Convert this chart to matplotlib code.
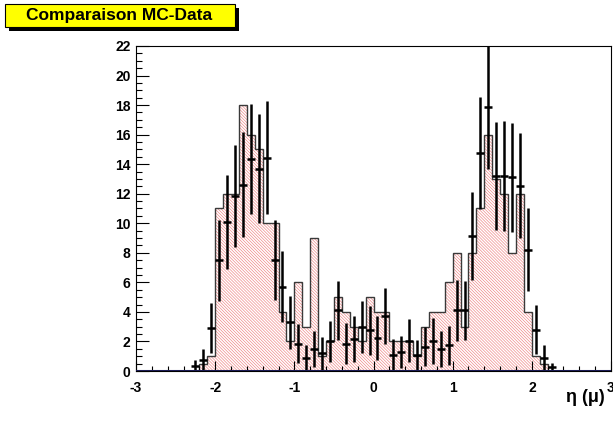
import numpy as np
import matplotlib
matplotlib.use("Agg")
import matplotlib.pyplot as plt
from matplotlib.patches import Rectangle
from matplotlib.ticker import MultipleLocator

plt.rcParams['font.family'] = ['Liberation Sans', 'DejaVu Sans']
plt.rcParams['hatch.linewidth'] = 0.45
plt.rcParams['axes.unicode_minus'] = False

# bins of 0.1 from -3 to 3
bin_edges = np.round(np.arange(-3.0, 3.0001, 0.1), 2)

# MC histogram contents (bins -2.2 .. 2.2)
mc_lo = -2.2
mc_vals = [0.5, 1, 11, 12, 12, 18, 16, 15, 10, 10,
           4, 2, 6, 3, 9, 1, 2, 5, 4, 3,
           2, 5, 4, 4, 2, 2, 2, 1, 3, 4,
           4, 6, 8, 3, 8, 11, 16, 13, 12, 8,
           12, 4, 1, 0.5]

# data points (bin centres), values and errors
data_x = [-2.25, -2.15, -2.05, -1.95, -1.85, -1.75, -1.65, -1.55, -1.45, -1.35,
          -1.25, -1.15, -1.05, -0.95, -0.85, -0.75, -0.65, -0.55, -0.45, -0.35,
          -0.25, -0.15, -0.05, 0.05, 0.15, 0.25, 0.35, 0.45, 0.55, 0.65,
          0.75, 0.85, 0.95, 1.05, 1.15, 1.25, 1.35, 1.45, 1.55, 1.65,
          1.75, 1.85, 1.95, 2.05, 2.15, 2.25]
data_y = [0.35, 0.72, 2.9, 7.5, 10.1, 11.85, 12.6, 14.35, 13.7, 14.45,
          7.5, 5.7, 3.3, 1.85, 0.86, 1.5, 1.2, 2.0, 4.1, 1.85,
          2.15, 3.0, 2.75, 2.25, 3.7, 1.1, 1.3, 2.05, 1.1, 1.65,
          2.05, 1.5, 1.75, 4.1, 4.1, 9.15, 14.75, 17.9, 13.2, 13.2,
          13.1, 12.55, 8.2, 2.8, 0.86, 0.25]
data_err = [0.4, 0.8, 1.7, 2.75, 3.2, 3.45, 3.55, 3.75, 3.7, 3.8,
            2.7, 2.4, 1.8, 1.3, 0.9, 1.2, 1.1, 1.4, 2.0, 1.37,
            1.55, 1.76, 1.66, 1.5, 1.9, 1.05, 1.1, 1.45, 1.0, 1.3,
            1.55, 1.2, 1.33, 2.05, 2.0, 3.0, 3.8, 4.2, 3.67, 3.7,
            3.67, 3.55, 2.8, 1.64, 0.9, 0.3]

mc_full = np.zeros(len(bin_edges) - 1)
start = int(round((mc_lo + 3.0) / 0.1))
mc_full[start:start + len(mc_vals)] = mc_vals

fig = plt.figure(figsize=(6.13, 4.23), dpi=100)
ax = fig.add_axes([0.2219, 0.1229, 0.7748, 0.7684])

# hatched MC
ax.stairs(mc_full, bin_edges, fill=True, facecolor='none', edgecolor='#ee8080',
          hatch='\\' * 11, linewidth=0)
ax.stairs(mc_full, bin_edges, color='#3a3a3a', linewidth=1.0)

# data
ax.errorbar(data_x, data_y, yerr=data_err, xerr=0.05, fmt='none',
            ecolor='black', elinewidth=1.8, capsize=0)

ax.axhline(0, color='#1c1c55', linewidth=2.2, zorder=5)

ax.set_xlim(-3, 3)
ax.set_ylim(0, 22)
ax.xaxis.set_major_locator(MultipleLocator(1))
ax.xaxis.set_minor_locator(MultipleLocator(0.2))
ax.yaxis.set_major_locator(MultipleLocator(2))
ax.yaxis.set_minor_locator(MultipleLocator(0.5))
ax.tick_params(which='both', direction='in', top=False, right=False, width=0.8)
ax.tick_params(axis='y', which='major', length=9)
ax.tick_params(axis='y', which='minor', length=4.5)
ax.tick_params(axis='x', which='major', length=7)
ax.tick_params(axis='x', which='minor', length=3.5)
ax.tick_params(axis='both', labelsize=10)
for lab in ax.get_xticklabels() + ax.get_yticklabels():
    lab.set_fontweight('bold')
ax.tick_params(axis='x', pad=7)
ax.tick_params(axis='y', pad=4)
for s in ax.spines.values():
    s.set_linewidth(0.8)

fig.text(0.987, 0.06, 'η (μ)', ha='right', va='center', fontsize=13,
         fontweight='bold')

# title box with shadow
fig.patches.append(Rectangle((9 / 613, 1 - 31 / 423), 230 / 613, 23 / 423,
                             transform=fig.transFigure, facecolor='black',
                             edgecolor='none'))
fig.patches.append(Rectangle((5 / 613, 1 - 27 / 423), 230 / 613, 23 / 423,
                             transform=fig.transFigure, facecolor='#ffff00',
                             edgecolor='black', linewidth=0.8))
fig.text(119 / 613, 1 - 15.5 / 423, 'Comparaison MC-Data', ha='center',
         va='center', fontsize=12.5, fontweight='bold')

fig.savefig('out.png', dpi=100)
